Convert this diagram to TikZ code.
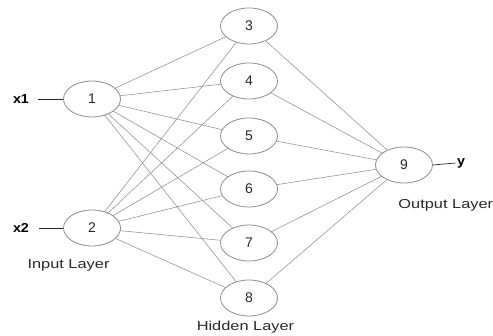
\documentclass[tikz,border=0pt]{standalone}
\usepackage{fontspec}
\setmainfont{Liberation Sans}
\usetikzlibrary{shapes.geometric, positioning}
\definecolor{edgeGray}{RGB}{150,150,150}
\definecolor{ringGray}{RGB}{140,140,140}
\definecolor{inkDark}{RGB}{40,40,40}

\begin{document}
\begin{tikzpicture}[
  x=1pt, y=-1pt,
  neuron/.style={
    ellipse, draw=ringGray, fill=white, line width=0.8pt,
    minimum width=57pt, minimum height=36pt,
    font=\fontsize{14}{16}\selectfont, text=inkDark
  },
  wire/.style={edgeGray, line width=0.6pt},
  feed/.style={inkDark, line width=0.7pt},
  iolabel/.style={font=\fontsize{13}{15}\selectfont\bfseries, text=black,
    xscale=1.1, inner sep=1pt},
  layer/.style={font=\fontsize{13}{15}\selectfont, text=inkDark, xscale=1.26}
]
  \useasboundingbox (0,0) rectangle (493,336);

  % connections
  \foreach \h/\yy in {3/26, 4/81, 5/136, 6/189, 7/243, 8/298} {
    \coordinate (h\h) at (249,\yy);
    \draw[wire] (92,99) -- (h\h);
    \draw[wire] (92,228) -- (h\h);
    \draw[wire] (h\h) -- (404,165);
  }

  % input layer
  \node[neuron] (n1) at (92,99)  {1};
  \node[neuron] (n2) at (92,228) {2};

  % hidden layer
  \foreach \k in {3,...,8}
    \node[neuron] (n\k) at (h\k) {\k};

  % output layer
  \node[neuron] (n9) at (404,165) {9};

  % inputs and output
  \node[iolabel] (x1) at (21,99)  {x1};
  \node[iolabel] (x2) at (21,228) {x2};
  \node[iolabel] (y)  at (461,163) {y};
  \coordinate (x1e) at (38,99);
  \coordinate (x2e) at (39,228);
  \draw[feed] (x1e) -- (n1.west);
  \draw[feed] (x2e) -- (n2.west);
  \draw[feed] (n9.east) -- (y.west);

  % layer captions
  \node[layer] (inlab)  at (68.5,265.5) {Input Layer};
  \node[layer] (hidlab) at (245.5,327)  {Hidden Layer};
  \node[layer, anchor=west] (outlab) at (394,205) {Output Layer};
\end{tikzpicture}
\end{document}
